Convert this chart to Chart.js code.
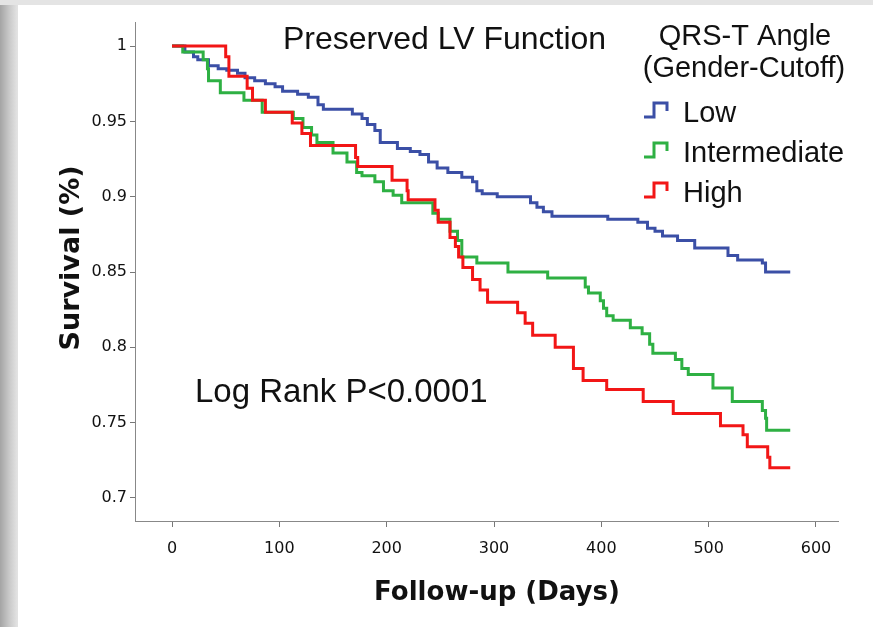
<!DOCTYPE html>
<html>
<head>
<meta charset="utf-8">
<title>Preserved LV Function - Kaplan-Meier</title>
<script src="https://cdn.jsdelivr.net/npm/chart.js@4.4.0/dist/chart.umd.min.js"></script>
<style>
  html, body { margin: 0; padding: 0; }
  body {
    width: 873px;
    height: 627px;
    overflow: hidden;
    position: relative;
    background: linear-gradient(to right, #a4a4a4 0px, #c8c8c8 9px, #e2e2e2 17px);
  }
  .top-strip { position: absolute; left: 0; top: 0; width: 873px; height: 5px; background: #e4e4e4; }
  .panel { position: absolute; left: 18px; top: 5px; right: 0; bottom: 0; background: #fff; }
  #wrap { position: absolute; left: 0; top: 0; width: 873px; height: 627px; }
</style>
</head>
<body>
<div class="top-strip"></div>
<div class="panel"></div>
<div id="wrap"><canvas id="km-chart"></canvas></div>

<script>
// Kaplan-Meier survival (days, survival after each step)
const lowDays = [0, 12, 20, 24, 34, 43, 51, 61, 68, 77, 87, 96, 103, 117, 127, 136, 141, 168, 177, 182,
  189, 194, 210, 222, 231, 239, 247, 257, 270, 280, 284, 289, 303, 334, 340, 346, 354, 406, 434, 443,
  450, 457, 471, 487, 518, 527, 550, 553, 576];
const lowSurv = [1, 0.996, 0.993, 0.991, 0.987, 0.985, 0.984, 0.982, 0.979, 0.977, 0.975, 0.973, 0.970, 0.968, 0.966, 0.961, 0.958, 0.955, 0.952, 0.948,
  0.944, 0.936, 0.932, 0.930, 0.928, 0.923, 0.919, 0.916, 0.913, 0.910, 0.904, 0.902, 0.900, 0.896, 0.893, 0.890, 0.887, 0.885, 0.883, 0.879,
  0.877, 0.874, 0.871, 0.866, 0.861, 0.858, 0.856, 0.850, 0.850];

const intDays = [0, 10, 29, 33, 34, 45, 67, 84, 113, 122, 130, 135, 150, 163, 172, 177, 189, 197, 206, 214,
  243, 248, 259, 266, 270, 284, 313, 350, 385, 388, 399, 402, 405, 411, 427, 438, 445, 448, 469, 475,
  481, 504, 522, 550, 553, 554, 576];
const intSurv = [1, 0.996, 0.991, 0.985, 0.977, 0.969, 0.964, 0.956, 0.952, 0.946, 0.941, 0.936, 0.929, 0.923, 0.916, 0.914, 0.910, 0.904, 0.901, 0.896,
  0.889, 0.885, 0.877, 0.871, 0.860, 0.856, 0.850, 0.846, 0.840, 0.836, 0.831, 0.826, 0.821, 0.818, 0.813, 0.809, 0.802, 0.796, 0.792, 0.786,
  0.782, 0.773, 0.764, 0.758, 0.753, 0.745, 0.745];

const highDays = [0, 50, 53, 70, 75, 87, 112, 121, 129, 171, 173, 205, 219, 220, 245, 248, 259, 264, 267, 271,
  280, 287, 294, 322, 329, 336, 357, 374, 383, 405, 439, 467, 511, 532, 536, 555, 557, 576];
const highSurv = [1, 0.993, 0.980, 0.972, 0.964, 0.956, 0.949, 0.942, 0.934, 0.926, 0.920, 0.911, 0.904, 0.898, 0.891, 0.883, 0.873, 0.867, 0.860, 0.853,
  0.845, 0.838, 0.830, 0.823, 0.816, 0.808, 0.800, 0.786, 0.778, 0.772, 0.764, 0.756, 0.748, 0.742, 0.734, 0.727, 0.720, 0.720];

const xTicks = [0, 100, 200, 300, 400, 500, 600];
const yTicks = [0.7, 0.75, 0.8, 0.85, 0.9, 0.95, 1];

const groupLabels = ['Low', 'Intermediate', 'High'];
const groupColors = ['#3b4fa6', '#2eb043', '#f21616'];

const chartTitle = 'Preserved LV Function';
const legendTitle = ['QRS-T Angle', '(Gender-Cutoff)'];
const pValueText = 'Log Rank P<0.0001';
const xTitle = 'Follow-up (Days)';
const yTitle = 'Survival (%)';

function toPoints(days, surv) {
  return days.map((d, i) => ({ x: d, y: surv[i] }));
}

// Texts and the step-style legend, drawn on top of the plot
const annotations = {
  id: 'annotations',
  afterDraw(chart) {
    const { ctx } = chart;
    ctx.save();
    ctx.fillStyle = '#111';
    ctx.textAlign = 'left';
    ctx.textBaseline = 'alphabetic';

    ctx.font = '32px "Liberation Sans", Arial, sans-serif';
    ctx.fillText(chartTitle, 283, 49);

    ctx.font = '33px "Liberation Sans", Arial, sans-serif';
    ctx.fillText(pValueText, 195, 402);

    // legend
    ctx.font = '29px "Liberation Sans", Arial, sans-serif';
    ctx.textAlign = 'center';
    ctx.fillText(legendTitle[0], 745, 45);
    ctx.fillText(legendTitle[1], 744, 77);
    ctx.textAlign = 'left';
    groupLabels.forEach((label, i) => {
      const base = 117 + i * 40;
      ctx.strokeStyle = groupColors[i];
      ctx.lineWidth = 3;
      ctx.beginPath();
      ctx.moveTo(644, base);
      ctx.lineTo(654, base);
      ctx.lineTo(654, base - 14);
      ctx.lineTo(667, base - 14);
      ctx.lineTo(667, base - 6);
      ctx.stroke();
      ctx.fillStyle = '#111';
      ctx.fillText(label, 683, base + 5);
    });

    // axis titles
    ctx.font = 'bold 26px "DejaVu Sans", sans-serif';
    ctx.textAlign = 'center';
    ctx.fillText(xTitle, 497, 600);
    ctx.font = 'bold 27px "DejaVu Sans", sans-serif';
    ctx.translate(79, 258);
    ctx.rotate(-Math.PI / 2);
    ctx.fillText(yTitle, 0, 0);
    ctx.restore();
  }
};

const ctx = document.getElementById('km-chart').getContext('2d');

const datasets = [
  { data: toPoints(lowDays, lowSurv), order: 2 },
  { data: toPoints(intDays, intSurv), order: 1 },
  { data: toPoints(highDays, highSurv), order: 0 }
].map((ds, i) => ({
  label: groupLabels[i],
  data: ds.data,
  order: ds.order,
  borderColor: groupColors[i],
  borderWidth: 3,
  stepped: 'before',
  fill: false,
  pointRadius: 0,
  tension: 0
}));

new Chart(ctx, {
  type: 'line',
  data: { datasets },
  options: {
    responsive: true,
    maintainAspectRatio: false,
    animation: false,
    layout: {
      padding: { left: 0, right: 35, top: 22, bottom: 0 }
    },
    plugins: {
      legend: { display: false },
      title: { display: false },
      tooltip: { enabled: false }
    },
    scales: {
      x: {
        type: 'linear',
        min: -34.5,
        max: 620.5,
        afterFit: scale => { scale.height = 106; },
        afterBuildTicks: scale => { scale.ticks = xTicks.map(v => ({ value: v })); },
        ticks: {
          padding: 12,
          color: '#111',
          font: { family: '"DejaVu Sans", sans-serif', size: 16 },
          maxRotation: 0
        },
        grid: {
          drawOnChartArea: false,
          drawTicks: true,
          tickLength: 6,
          color: '#777'
        },
        border: { display: true, color: '#888', width: 1 }
      },
      y: {
        type: 'linear',
        min: 0.6847,
        max: 1.016,
        afterFit: scale => { scale.width = 135; },
        afterBuildTicks: scale => { scale.ticks = yTicks.map(v => ({ value: v })); },
        ticks: {
          padding: 3,
          color: '#111',
          font: { family: '"DejaVu Sans", sans-serif', size: 16 },
          callback: value => String(value)
        },
        grid: {
          drawOnChartArea: false,
          drawTicks: true,
          tickLength: 5,
          color: '#777'
        },
        border: { display: true, color: '#888', width: 1 }
      }
    }
  },
  plugins: [annotations]
});
</script>
</body>
</html>
